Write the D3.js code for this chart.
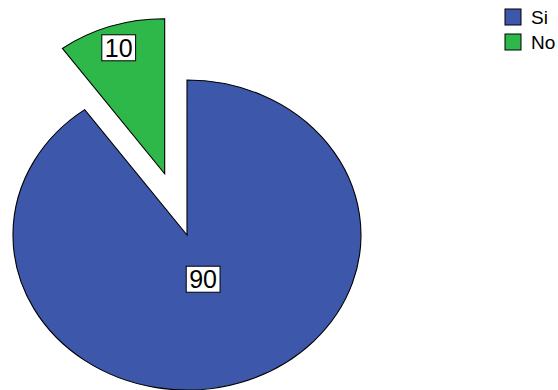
<!DOCTYPE html>
<html>
<head>
<meta charset="utf-8">
<script src="https://cdn.jsdelivr.net/npm/d3@7"></script>
<style>
  html, body { margin: 0; padding: 0; background: #fff; overflow: hidden; }
  svg { display: block; font-family: "Liberation Sans", Arial, sans-serif; }
</style>
</head>
<body>
<svg id="chart" width="558" height="390"></svg>
<script>
// Answer categories and their percentages
const categories = ["Si", "No"];
const values = [90, 10];
const colors = ["#3d58aa", "#2fb84a"];
const explodedCategory = "No";

const svg = d3.select("#chart");

// Elliptical pie: centre and horizontal / vertical radii
const cx = 187, cy = 235, rx = 174, ry = 155;
const explodeFrac = 0.415;

const pie = d3.pie().sort(null).value(d => d.value);
const data = pie(categories.map((c, i) => ({ name: c, value: values[i], color: colors[i] })));

const arc = d3.arc().innerRadius(0).outerRadius(1);

const pieG = svg.append("g").attr("transform", `translate(${cx},${cy})`);

function offsetOf(d) {
  if (d.data.name !== explodedCategory) return [0, 0];
  const mid = (d.startAngle + d.endAngle) / 2;
  return [Math.sin(mid) * explodeFrac * rx, -Math.cos(mid) * explodeFrac * ry];
}

const slices = pieG.selectAll("g.slice").data(data).enter().append("g")
  .attr("class", "slice")
  .attr("transform", d => { const o = offsetOf(d); return `translate(${o[0]},${o[1]})`; });

slices.append("path")
  .attr("d", arc)
  .attr("transform", `scale(${rx},${ry})`)
  .attr("fill", d => d.data.color)
  .attr("stroke", "#000")
  .attr("stroke-width", 1.1)
  .attr("vector-effect", "non-scaling-stroke");

// Value labels in white boxes
const labelRadius = d => d.data.name === explodedCategory ? 0.855 : 0.3;
slices.each(function (d) {
  const g = d3.select(this);
  const mid = (d.startAngle + d.endAngle) / 2;
  const r = labelRadius(d);
  const lx = Math.sin(mid) * r * rx;
  const ly = -Math.cos(mid) * r * ry;
  const t = g.append("text")
    .attr("x", lx).attr("y", ly)
    .attr("text-anchor", "middle")
    .attr("dominant-baseline", "central")
    .attr("font-size", 25)
    .attr("fill", "#000")
    .text(d.data.value);
  const bb = t.node().getBBox();
  const w = bb.width + 6, h = 26;
  g.insert("rect", "text")
    .attr("x", lx - w / 2).attr("y", ly - h / 2)
    .attr("width", w).attr("height", h)
    .attr("fill", "#fff")
    .attr("stroke", "#000")
    .attr("stroke-width", 1);
});

// Legend
const legend = svg.append("g").attr("transform", "translate(505,9)");
const items = legend.selectAll("g").data(categories).enter().append("g")
  .attr("transform", (d, i) => `translate(0,${i * 25})`);
items.append("rect")
  .attr("width", 16).attr("height", 16)
  .attr("fill", (d, i) => colors[i])
  .attr("stroke", "#000").attr("stroke-width", 1);
items.append("text")
  .attr("x", 26).attr("y", 8.5)
  .attr("dominant-baseline", "central")
  .attr("font-size", 19)
  .attr("fill", "#000")
  .text(d => d);
</script>
</body>
</html>
